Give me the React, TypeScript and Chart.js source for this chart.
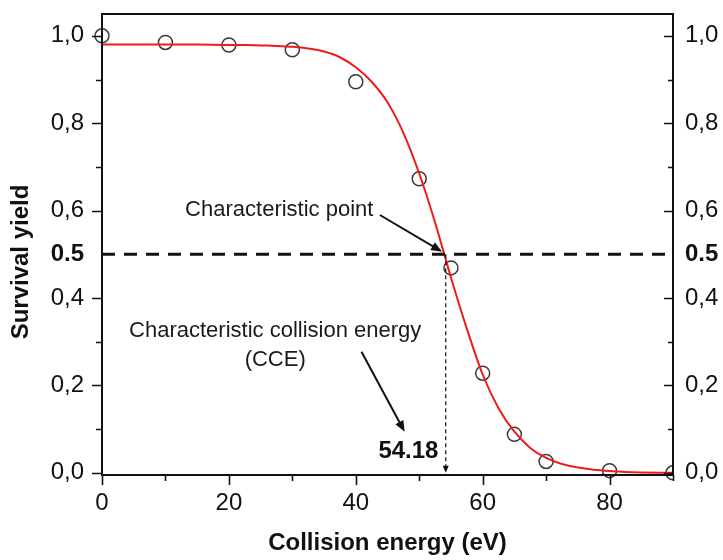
import React, { useEffect, useRef } from 'react';
import { Chart, registerables } from 'chart.js';

Chart.register(...registerables);

// Measured survival yield versus collision energy
const energies = [0, 10, 20, 30, 40, 50, 55, 60, 65, 70, 80, 90];
const survival = [1.0, 0.985, 0.979, 0.968, 0.895, 0.673, 0.469, 0.228, 0.088, 0.026, 0.005, 0.0];

// Sigmoidal fit curve sampled along the energy axis
const fitEnergies = [0, 5, 10, 15, 20, 22.5, 25, 27.5, 30, 32.5, 35, 37.5, 40, 42.5, 45, 47.5, 50, 52.5, 55, 57.5, 60, 62.5, 65, 67.5, 70, 72.5, 75, 77.5, 80, 82.5, 85, 90];
const fitSurvival = [0.98, 0.98, 0.98, 0.98, 0.979, 0.979, 0.978, 0.977, 0.975, 0.971, 0.964, 0.951, 0.928, 0.895, 0.848, 0.778, 0.685, 0.573, 0.447, 0.33, 0.225, 0.148, 0.094, 0.057, 0.034, 0.02, 0.012, 0.007, 0.004, 0.002, 0.001, 0.0];

// Axis ticks
const xTickValues = [0, 20, 40, 60, 80];
const xMinorValues = [10, 30, 50, 70, 90];
const yTickValues = [0, 0.2, 0.4, 0.5, 0.6, 0.8, 1.0];
const yMinorValues = [0.1, 0.3, 0.7, 0.9];

// Characteristic point
const halfYield = 0.5;
const cce = 54.18;

const FONT = "'Liberation Sans', Arial, Helvetica, sans-serif";
const INK = '#111111';

function arrowHead(ctx: CanvasRenderingContext2D, x1: number, y1: number, x2: number, y2: number, len: number, half: number) {
  const ang = Math.atan2(y2 - y1, x2 - x1);
  ctx.beginPath();
  ctx.moveTo(x2, y2);
  ctx.lineTo(x2 - len * Math.cos(ang) + half * Math.sin(ang), y2 - len * Math.sin(ang) - half * Math.cos(ang));
  ctx.lineTo(x2 - len * Math.cos(ang) - half * Math.sin(ang), y2 - len * Math.sin(ang) + half * Math.cos(ang));
  ctx.closePath();
  ctx.fill();
}

function arrow(ctx: CanvasRenderingContext2D, x1: number, y1: number, x2: number, y2: number, width: number, len: number, half: number) {
  const ang = Math.atan2(y2 - y1, x2 - x1);
  ctx.lineWidth = width;
  ctx.setLineDash([]);
  ctx.beginPath();
  ctx.moveTo(x1, y1);
  ctx.lineTo(x2 - (len - 1) * Math.cos(ang), y2 - (len - 1) * Math.sin(ang));
  ctx.stroke();
  arrowHead(ctx, x1, y1, x2, y2, len, half);
}

const decorPlugin = {
  id: 'decor',
  afterDatasetsDraw(chart: any) {
    const { ctx, chartArea: a, scales } = chart;
    const x = scales.x;
    const y = scales.y;
    ctx.save();
    ctx.strokeStyle = INK;
    ctx.fillStyle = INK;

    // horizontal dashed line at half yield
    ctx.lineWidth = 3;
    ctx.setLineDash([13, 9]);
    ctx.beginPath();
    ctx.moveTo(a.left, y.getPixelForValue(halfYield));
    ctx.lineTo(a.right, y.getPixelForValue(halfYield));
    ctx.stroke();

    // vertical dashed drop line to the characteristic energy
    const cx = x.getPixelForValue(cce);
    const y0 = y.getPixelForValue(0);
    ctx.lineWidth = 1.2;
    ctx.setLineDash([4, 3]);
    ctx.beginPath();
    ctx.moveTo(cx, y.getPixelForValue(halfYield));
    ctx.lineTo(cx, y0 - 6);
    ctx.stroke();
    ctx.setLineDash([]);
    arrowHead(ctx, cx, y0 - 20, cx, y0, 7, 3);

    // arrows
    arrow(ctx, x.getPixelForValue(43.8), y.getPixelForValue(0.59), x.getPixelForValue(53.6), y.getPixelForValue(0.506), 2, 11, 4.5);
    arrow(ctx, x.getPixelForValue(40.9), y.getPixelForValue(0.277), x.getPixelForValue(47.7), y.getPixelForValue(0.094), 2, 11, 4.5);

    // annotation text
    ctx.textBaseline = 'middle';
    ctx.font = `22px ${FONT}`;
    ctx.fillStyle = '#1a1a1a';
    ctx.textAlign = 'left';
    ctx.fillText('Characteristic point', x.getPixelForValue(13.1), y.getPixelForValue(0.602));
    ctx.textAlign = 'center';
    ctx.fillText('Characteristic collision energy', x.getPixelForValue(27.3), y.getPixelForValue(0.324));
    ctx.fillText('(CCE)', x.getPixelForValue(27.3), y.getPixelForValue(0.259));
    ctx.font = `bold 24px ${FONT}`;
    ctx.fillStyle = INK;
    ctx.fillText(String(cce), x.getPixelForValue(48.3), y.getPixelForValue(0.048));
    ctx.restore();
  },
  afterDraw(chart: any) {
    const { ctx, chartArea: a, scales } = chart;
    const x = scales.x;
    const y = scales.y;
    ctx.save();
    ctx.strokeStyle = INK;
    ctx.lineWidth = 2;
    ctx.setLineDash([]);
    ctx.strokeRect(a.left, a.top, a.right - a.left, a.bottom - a.top);

    // tick marks: outward on left and bottom, inward on right
    ctx.lineWidth = 1.6;
    ctx.beginPath();
    const yTick = (v: number, len: number) => {
      const p = Math.round(y.getPixelForValue(v)) + 0.5;
      ctx.moveTo(a.left - len, p);
      ctx.lineTo(a.left, p);
      ctx.moveTo(a.right, p);
      ctx.lineTo(a.right - len + 1, p);
    };
    yTickValues.filter((v) => v !== halfYield).forEach((v) => yTick(v, 10));
    yMinorValues.forEach((v) => yTick(v, 6));
    const xTick = (v: number, len: number) => {
      const p = Math.round(x.getPixelForValue(v)) + 0.5;
      ctx.moveTo(p, a.bottom);
      ctx.lineTo(p, a.bottom + len);
    };
    xTickValues.forEach((v) => xTick(v, 10));
    xMinorValues.forEach((v) => xTick(v, 6));
    ctx.stroke();

    // axis titles
    ctx.fillStyle = INK;
    ctx.font = `bold 24px ${FONT}`;
    ctx.textAlign = 'center';
    ctx.textBaseline = 'middle';
    ctx.fillText('Collision energy (eV)', (a.left + a.right) / 2, 543);
    ctx.translate(21, 262);
    ctx.rotate(-Math.PI / 2);
    ctx.fillText('Survival yield', 0, 0);
    ctx.restore();
  },
};

const yLabel = (v: number | string) => {
  const n = Number(v);
  return n === halfYield ? '0.5' : n.toFixed(1).replace('.', ',');
};

const yFont = (c: any) => ({
  family: FONT,
  size: 24,
  weight: c.tick && c.tick.value === halfYield ? 'bold' : 'normal',
});

export default function App() {
  const ref = useRef<HTMLCanvasElement>(null);

  useEffect(() => {
    if (!ref.current) return;
    const chart = new Chart(ref.current, {
      type: 'line',
      data: {
        datasets: [
          {
            label: 'Fit',
            data: fitEnergies.map((e, i) => ({ x: e, y: fitSurvival[i] })),
            borderColor: '#ee1b1b',
            borderWidth: 2,
            pointRadius: 0,
            cubicInterpolationMode: 'monotone',
            fill: false,
            order: 0,
          },
          {
            label: 'Survival yield',
            data: energies.map((e, i) => ({ x: e, y: survival[i] })),
            showLine: false,
            pointRadius: 7,
            pointBorderWidth: 1.5,
            pointBorderColor: '#3a3a3a',
            pointBackgroundColor: 'rgba(0,0,0,0)',
            clip: { left: 10, top: 10, right: 0, bottom: 10 },
            order: 1,
          },
        ] as any,
      },
      options: {
        animation: false,
        responsive: false,
        devicePixelRatio: 1,
        layout: { padding: { top: 14, left: 0, right: 0, bottom: 0 } },
        plugins: { legend: { display: false }, tooltip: { enabled: false } },
        scales: {
          x: {
            type: 'linear',
            position: 'bottom',
            min: 0,
            max: 90,
            grid: { display: false, drawTicks: false },
            border: { display: false },
            ticks: {
              padding: 14,
              color: INK,
              font: { family: FONT, size: 24 },
              maxRotation: 0,
              autoSkip: false,
              callback: (v: any) => String(v),
            },
            afterBuildTicks: (s: any) => {
              s.ticks = xTickValues.map((v) => ({ value: v }));
            },
            afterFit: (s: any) => {
              s.height = 85;
              s.paddingLeft = 0;
              s.paddingRight = 0;
            },
          },
          y: {
            type: 'linear',
            position: 'left',
            min: -0.005,
            max: 1.05,
            grid: { display: false, drawTicks: false },
            border: { display: false },
            ticks: { padding: 18, color: INK, font: yFont as any, autoSkip: false, callback: yLabel },
            afterBuildTicks: (s: any) => {
              s.ticks = yTickValues.map((v) => ({ value: v }));
            },
            afterFit: (s: any) => {
              s.width = 102;
              s.paddingTop = 0;
              s.paddingBottom = 0;
            },
          },
          y2: {
            type: 'linear',
            position: 'right',
            min: -0.005,
            max: 1.05,
            grid: { display: false, drawTicks: false },
            border: { display: false },
            ticks: { padding: 12, color: INK, font: yFont as any, autoSkip: false, callback: yLabel },
            afterBuildTicks: (s: any) => {
              s.ticks = yTickValues.map((v) => ({ value: v }));
            },
            afterFit: (s: any) => {
              s.width = 50;
              s.paddingTop = 0;
              s.paddingBottom = 0;
            },
          },
        },
      } as any,
      plugins: [decorPlugin],
    });
    return () => chart.destroy();
  }, []);

  return (
    <div style={{ position: 'absolute', left: 0, top: 0, width: 723, height: 560, background: '#ffffff' }}>
      <canvas ref={ref} width={723} height={560} style={{ display: 'block', width: 723, height: 560 }} />
    </div>
  );
}
